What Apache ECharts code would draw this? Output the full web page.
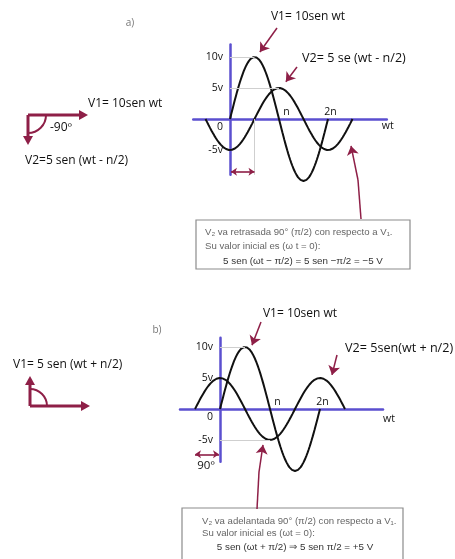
<!DOCTYPE html>
<html><head><meta charset="utf-8">
<script src="https://cdn.jsdelivr.net/npm/echarts@6/dist/echarts.min.js"></script>
<style>html,body{margin:0;padding:0;background:#fff}#c{width:455px;height:559px}</style>
</head><body><div id="c"></div><script>
// Amplitudes of the two voltages (V): V1, V2
const amplitudes = [10, 5];
// Phase offsets in units of π: a) V2 lags by π/2, b) V2 leads by π/2
const phasesA = [0, -0.5];
const phasesB = [0, 0.5];
// Plotted span of each wave (units of π)
const spansA = [[0, 2], [-0.5, 2.5]];
const spansB = [[0, 2], [-0.5, 2.5]];
// Axis tick labels
const yTickValues = [-5, 0, 5, 10];
const xTickValues = [1, 2];
const xTickLabels = ['n', '2n'];

const AXIS = '#5b4fcf';
const RED = '#8e1f47';
const GUIDE = '#cfcfcf';
const FONT = '"Open Sans", sans-serif';
const INK = '#111';

// Panel layouts: origin pixel, pixels per π and per volt, axis ranges
const LA = {ox: 230, oy: 119, sx: 49, sy: 6.2, xmin: -0.75, xmax: 3.2, ymin: -9, ymax: 12, nameGap: -5, namePad: 2};
const LB = {ox: 220, oy: 409, sx: 50, sy: 6.2, xmin: -0.8, xmax: 3.26, ymin: -8.5, ymax: 11.5, nameGap: 0, namePad: 5};

function gridOf(L) {
  return {left: L.ox + L.xmin * L.sx, width: (L.xmax - L.xmin) * L.sx,
          top: L.oy - L.ymax * L.sy, height: (L.ymax - L.ymin) * L.sy};
}

function wave(amp, phase, span) {
  const pts = [];
  for (let x = span[0]; x <= span[1] + 1e-9; x += 0.01) {
    pts.push([+x.toFixed(3), amp * Math.sin(Math.PI * (x + phase))]);
  }
  return pts;
}

// Axes are shifted onto the origin with offsets so lines and labels move together
function xAxisOf(i, L) {
  return {
    gridIndex: i, type: 'value', min: L.xmin, max: L.xmax, position: 'bottom',
    offset: L.ymin * L.sy,
    axisLine: {show: true, onZero: false, lineStyle: {color: AXIS, width: 2.5}},
    axisTick: {show: false}, splitLine: {show: false},
    axisLabel: {
      show: true, inside: true, customValues: xTickValues, margin: 1,
      formatter: v => {
        const k = xTickValues.indexOf(v);
        return k < 0 ? '' : '{t' + k + '|' + xTickLabels[k] + '}';
      },
      color: INK, fontSize: 10.5, fontFamily: FONT,
      rich: {
        t0: {padding: [0, 0, 0, 15], color: INK, fontSize: 10.5, fontFamily: FONT},
        t1: {padding: [0, 0, 0, 5], color: INK, fontSize: 10.5, fontFamily: FONT}
      }
    },
    name: 'wt', nameLocation: 'end', nameGap: L.nameGap,
    nameTextStyle: {align: 'left', verticalAlign: 'top', padding: [L.namePad, 0, 0, 0],
                    color: INK, fontSize: 10.5, fontFamily: FONT}
  };
}

function yAxisOf(i, L) {
  return {
    gridIndex: i, type: 'value', min: L.ymin, max: L.ymax, position: 'left',
    offset: L.xmin * L.sx,
    axisLine: {show: true, onZero: false, lineStyle: {color: AXIS, width: 2.5}},
    axisTick: {show: false}, splitLine: {show: false},
    axisLabel: {
      show: true, customValues: yTickValues, margin: 7,
      formatter: v => v === 0 ? '{z|0}' : v + 'v',
      color: INK, fontSize: 10.5, fontFamily: FONT,
      rich: {z: {padding: [16, 0, 0, 0], color: INK, fontSize: 10.5, fontFamily: FONT}}
    }
  };
}

function pointer(from, to) {
  return [Object.assign({symbol: 'none'}, from), Object.assign({symbol: 'arrow', symbolSize: 9}, to)];
}
function plain(from, to, color, width) {
  const ls = {color: color, width: width, type: 'solid'};
  return [Object.assign({symbol: 'none', lineStyle: ls}, from), Object.assign({symbol: 'none', lineStyle: ls}, to)];
}
function span2(from, to) {
  const ls = {color: RED, width: 1.6, type: 'solid'};
  return [Object.assign({symbol: 'arrow', symbolSize: 6, lineStyle: ls}, from),
          Object.assign({symbol: 'arrow', symbolSize: 6, lineStyle: ls}, to)];
}

function markLineOf(data) {
  return {silent: true, animation: false, label: {show: false},
          lineStyle: {color: RED, width: 1.5, type: 'solid'}, data: data};
}

function curve(i, amp, phase, span, marks) {
  return {
    type: 'line', xAxisIndex: i, yAxisIndex: i, data: wave(amp, phase, span),
    showSymbol: false, clip: false, smooth: false, animation: false,
    lineStyle: {color: '#111', width: 2}, markLine: markLineOf(marks)
  };
}

// Peak/zero positions derived from the phases
const pkA1 = 0.5 - phasesA[0], pkA2 = 0.5 - phasesA[1];
const pkB1 = 0.5 - phasesB[0], mnB2 = 1.5 - phasesB[1];

const series = [
  // a) V1 with its label pointers
  curve(0, amplitudes[0], phasesA[0], spansA[0], [
    pointer({x: 277, y: 28}, {coord: [pkA1 + 0.11, amplitudes[0] + 0.8]}),
    pointer({x: 297, y: 67}, {coord: [pkA2 + 0.14, amplitudes[1] + 1.0]}),
    plain({x: 361, y: 219}, {x: 358, y: 180}, RED, 1.5),
    pointer({x: 358, y: 180}, {coord: [2.47, -4.35]})
  ]),
  // a) V2 with guide lines and the phase-shift marker
  curve(0, amplitudes[1], phasesA[1], spansA[1], [
    plain({coord: [0, amplitudes[0]]}, {coord: [pkA1, amplitudes[0]]}, GUIDE, 1),
    plain({coord: [0, amplitudes[1]]}, {coord: [pkA2, amplitudes[1]]}, GUIDE, 1),
    plain({coord: [-phasesA[1], 0]}, {coord: [-phasesA[1], LA.ymin]}, GUIDE, 1),
    span2({coord: [0.02, -8.5]}, {coord: [-phasesA[1], -8.5]})
  ]),
  // b) V1 with its label pointers
  curve(1, amplitudes[0], phasesB[0], spansB[0], [
    pointer({x: 261, y: 322}, {coord: [pkB1 + 0.14, amplitudes[0] + 0.3]}),
    pointer({x: 337, y: 355}, {coord: [2.24, amplitudes[1] + 0.5]}),
    plain({x: 257, y: 509}, {x: 259, y: 472}, RED, 1.5),
    pointer({x: 259, y: 472}, {coord: [0.86, -5.8]})
  ]),
  // b) V2 with guide lines and the phase-shift marker
  curve(1, amplitudes[1], phasesB[1], spansB[1], [
    plain({coord: [0, amplitudes[0]]}, {coord: [pkB1, amplitudes[0]]}, GUIDE, 1),
    plain({coord: [0, -amplitudes[1]]}, {coord: [mnB2, -amplitudes[1]]}, GUIDE, 1),
    span2({coord: [-phasesB[1], -7.3]}, {coord: [-0.02, -7.3]})
  ])
];

// ---- phasor sketches and text annotations ----
function arrow(x1, y1, x2, y2, color, w, hl, hw) {
  const dx = x2 - x1, dy = y2 - y1, d = Math.hypot(dx, dy);
  const ux = dx / d, uy = dy / d;
  const bx = x2 - ux * hl, by = y2 - uy * hl;
  return [
    {type: 'line', shape: {x1: x1, y1: y1, x2: bx + ux, y2: by + uy}, style: {stroke: color, lineWidth: w}},
    {type: 'polygon', shape: {points: [[x2, y2], [bx - uy * hw, by + ux * hw], [bx + uy * hw, by - ux * hw]]},
     style: {fill: color}}
  ];
}
function phasor(ox, oy, amp, phase) {
  const len = amp * 6;
  return arrow(ox, oy, ox + Math.cos(Math.PI * phase) * len, oy - Math.sin(Math.PI * phase) * len, RED, 3, 9, 5);
}
function txt(x, y, s, opt) {
  opt = opt || {};
  return {type: 'text', x: x, y: y, z: 10, style: {
    text: s, fill: opt.fill || INK, align: opt.align || 'left', verticalAlign: 'middle',
    font: (opt.weight || 'normal') + ' ' + (opt.size || 12) + 'px ' + (opt.family || FONT)
  }};
}
function box(x, y, w, h, lines) {
  const els = [{type: 'rect', z: 5, shape: {x: x, y: y, width: w, height: h},
                style: {fill: '#fff', stroke: '#8c8c8c', lineWidth: 1.2}}];
  lines.forEach(l => els.push(txt(l[0], l[1], l[2],
    {size: l[3], fill: l[4], align: l[5] || 'left', family: '"Liberation Sans", Arial, sans-serif'})));
  return els;
}

const graphics = [].concat(
  [txt(130, 23, 'a)', {size: 10, fill: '#777', align: 'center'})],
  phasor(28, 115, amplitudes[0], phasesA[0]),
  phasor(28, 115, amplitudes[1], phasesA[1]),
  [{type: 'arc', shape: {cx: 28, cy: 115, r: 18, startAngle: 0, endAngle: Math.PI / 2, clockwise: true},
    style: {stroke: RED, lineWidth: 2, fill: null}}],
  [txt(88, 104, 'V1= 10sen wt'), txt(50, 128, '-90º', {size: 12}), txt(25, 161, 'V2=5 sen (wt - n/2)')],
  [txt(308, 17, 'V1= 10sen wt', {align: 'center'}), txt(302, 58, 'V2= 5 se (wt - n/2)', {size: 12.6})],
  box(196, 220, 214, 49, [
    [205, 232, 'V₂ va retrasada 90° (π/2) con respecto a V₁.', 9.6, '#666'],
    [205, 246, 'Su valor inicial es (ω t = 0):', 9.6, '#666'],
    [303, 261, '5 sen (ωt − π/2) = 5 sen −π/2 = −5 V', 9.8, '#333', 'center']
  ]),
  [txt(157, 330, 'b)', {size: 10, fill: '#777', align: 'center'})],
  phasor(30, 406, amplitudes[0], phasesB[0]),
  phasor(30, 406, amplitudes[1], phasesB[1]),
  [{type: 'arc', shape: {cx: 30, cy: 406, r: 17, startAngle: -Math.PI / 2, endAngle: 0, clockwise: true},
    style: {stroke: RED, lineWidth: 2, fill: null}}],
  [txt(13, 365, 'V1= 5 sen (wt + n/2)')],
  [txt(300, 314, 'V1= 10sen wt', {align: 'center'}), txt(345, 348, 'V2= 5sen(wt + n/2)', {size: 12.6}),
   txt(206, 466, '90º', {size: 11.5, align: 'center'})],
  box(182, 508, 221, 52, [
    [202, 521, 'V₂ va adelantada 90° (π/2) con respecto a V₁.', 9.6, '#666'],
    [202, 533, 'Su valor inicial es (ωt = 0):', 9.6, '#666'],
    [295, 547, '5 sen (ωt + π/2) ⇒ 5 sen π/2 = +5 V', 9.8, '#333', 'center']
  ])
);

const chart = echarts.init(document.getElementById('c'), null, {renderer: 'canvas'});
chart.setOption({
  animation: false,
  backgroundColor: '#fff',
  grid: [gridOf(LA), gridOf(LB)],
  xAxis: [xAxisOf(0, LA), xAxisOf(1, LB)],
  yAxis: [yAxisOf(0, LA), yAxisOf(1, LB)],
  series: series,
  graphic: graphics
});
</script></body></html>
